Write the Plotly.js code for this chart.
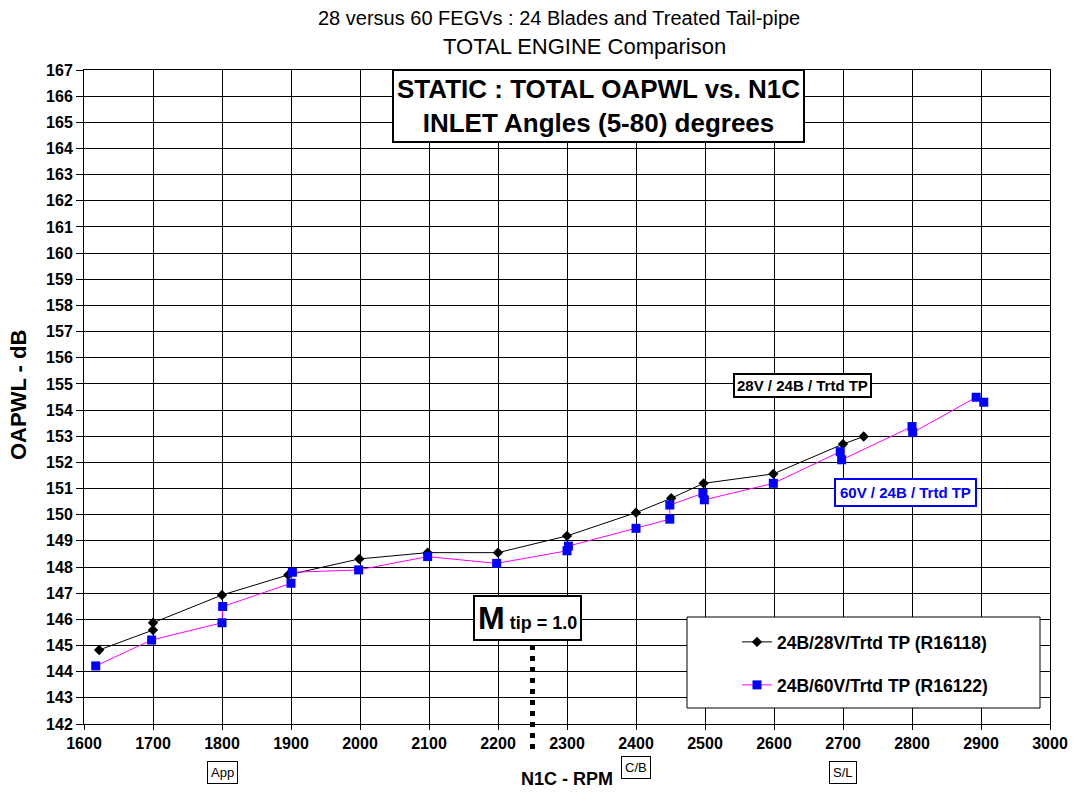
<!DOCTYPE html>
<html>
<head>
<meta charset="utf-8">
<script src="https://cdn.plot.ly/plotly-3.0.1.min.js"></script>
<style>html,body{margin:0;padding:0;background:#fff;}#chart{width:1073px;height:794px;}</style>
</head>
<body>
<div id="chart"></div>
<script>
// Series 1: 24B/28V/Trtd TP (R16118)
const rpm28 = [1622, 1700, 1700, 1800, 1896, 1999, 2098, 2200, 2300, 2400, 2451, 2498, 2599, 2700, 2730];
const pwl28 = [144.83, 145.59, 145.87, 146.93, 147.70, 148.31, 148.55, 148.55, 149.19, 150.08, 150.63, 151.20, 151.56, 152.70, 152.99];
// Series 2: 24B/60V/Trtd TP (R16122)
const rpm60 = [1617, 1698, 1800, 1801, 1900, 1902, 1998, 2098, 2198, 2300, 2302, 2400, 2449, 2449, 2497, 2499, 2599, 2696, 2698, 2800, 2801, 2893, 2904];
const pwl60 = [144.22, 145.21, 145.87, 146.49, 147.38, 147.80, 147.89, 148.40, 148.14, 148.62, 148.80, 149.48, 149.83, 150.37, 150.82, 150.57, 151.20, 152.41, 152.10, 153.37, 153.14, 154.49, 154.30];
const name28 = '24B/28V/Trtd TP (R16118)';
const name60 = '24B/60V/Trtd TP (R16122)';
const xTicks = [1600,1700,1800,1900,2000,2100,2200,2300,2400,2500,2600,2700,2800,2900,3000];
const yTicks = [142,143,144,145,146,147,148,149,150,151,152,153,154,155,156,157,158,159,160,161,162,163,164,165,166,167];
const opPoints = ['App', 'C/B', 'S/L'];
const opRpm = [1800, 2400, 2700];

const F = 'Liberation Sans, Arial, sans-serif';

const traces = [
  {x: rpm28, y: pwl28, name: name28, type: 'scatter', mode: 'lines+markers',
   line: {color: '#000000', width: 1}, marker: {symbol: 'diamond', size: 8, color: '#000000'},
   legend: 'legend'},
  {x: rpm60, y: pwl60, name: name60, type: 'scatter', mode: 'lines+markers',
   line: {color: '#ff00ff', width: 1}, marker: {symbol: 'square', size: 9, color: '#0000ff'},
   legend: 'legend2'}
];

const L = 84, R = 1050, T = 70, B = 724, W = 1073, H = 794;
const px = v => (v - L) / (R - L);
const py = v => (B - v) / (B - T);

function ann(o) { return Object.assign({xref: 'paper', yref: 'paper', showarrow: false, xanchor: 'center', yanchor: 'middle'}, o); }

const annotations = [
  ann({text: '28 versus 60 FEGVs : 24 Blades and Treated Tail-pipe', x: px(559), y: py(18),
   font: {family: F, size: 20, color: '#000'}}),
  ann({text: 'TOTAL ENGINE Comparison', x: px(584), y: py(46),
   font: {family: F, size: 22, color: '#000'}}),
  ann({text: '<b>STATIC : TOTAL OAPWL vs. N1C<br>INLET Angles (5-80) degrees</b>',
   x: px(598), y: py(105.5), align: 'center',
   font: {family: F, size: 26, color: '#000'},
   bgcolor: '#ffffff', bordercolor: '#000', borderwidth: 2, borderpad: 3}),
  ann({text: '<b>28V / 24B / Trtd TP</b>', x: px(802), y: py(386),
   font: {family: F, size: 15, color: '#000'},
   bgcolor: '#ffffff', bordercolor: '#000', borderwidth: 2, borderpad: 2}),
  ann({text: '<b>60V / 24B / Trtd TP</b>', x: px(905), y: py(492),
   font: {family: F, size: 15, color: '#0000ff'},
   bgcolor: '#ffffff', bordercolor: '#0000ff', borderwidth: 2, borderpad: 4}),
  ann({text: "<b><span style='font-size:32px'>M</span><span style='font-size:18px'> tip = 1.0</span></b>",
   x: px(527), y: py(618),
   font: {family: F, size: 18, color: '#000'},
   bgcolor: '#ffffff', bordercolor: '#000', borderwidth: 2, borderpad: 3}),
  ann({text: '<b>N1C - RPM</b>', x: px(567), y: py(779), font: {family: F, size: 18, color: '#000'}}),
  ann({text: '<b>OAPWL - dB</b>', x: px(18), y: py(395), textangle: -90, font: {family: F, size: 22, color: '#000'}})
];
opPoints.forEach((t, i) => {
  annotations.push(ann({text: t, xref: 'x', x: opRpm[i], y: py(t === 'C/B' ? 767 : 772),
    font: {family: F, size: 13, color: '#000'},
    bgcolor: '#ffffff', bordercolor: '#000', borderwidth: 1, borderpad: 3}));
});

const shapes = [
  {type: 'rect', xref: 'paper', yref: 'paper', x0: px(687), x1: px(1040), y0: py(708), y1: py(617),
   fillcolor: '#ffffff', line: {color: '#000', width: 1}, layer: 'above'},
  {type: 'line', xref: 'paper', yref: 'paper', x0: px(532.5), x1: px(532.5), y0: py(645), y1: py(752),
   line: {color: '#000', width: 5, dash: '5px,6px'}, layer: 'above'}
];

const axisFont = {family: F, size: 16, color: '#000'};

const layout = {
  width: W, height: H,
  margin: {l: L, r: W - R, t: T, b: H - B, pad: 0},
  paper_bgcolor: '#ffffff', plot_bgcolor: '#ffffff',
  showlegend: true,
  xaxis: {range: [1600, 3000], tickmode: 'array', tickvals: xTicks, ticktext: xTicks.map(v => '<b>' + v + '</b>'),
    showgrid: true, gridcolor: '#000', gridwidth: 1, zeroline: false,
    showline: true, linecolor: '#000', linewidth: 1, mirror: true,
    ticks: 'outside', ticklen: 5, tickcolor: '#000', tickfont: axisFont, automargin: false},
  yaxis: {range: [142, 167], tickmode: 'array', tickvals: yTicks, ticktext: yTicks.map(v => '<b>' + v + '</b>'),
    showgrid: true, gridcolor: '#000', gridwidth: 1, zeroline: false,
    showline: true, linecolor: '#000', linewidth: 1, mirror: true,
    ticks: 'outside', ticklen: 7, tickcolor: '#000', tickfont: axisFont, automargin: false},
  legend: {x: px(737), y: py(642), xanchor: 'left', yanchor: 'middle', bgcolor: 'rgba(0,0,0,0)',
    borderwidth: 0, font: {family: F, size: 17.5, color: '#000', weight: 'bold'}, itemwidth: 30},
  legend2: {x: px(737), y: py(685), xanchor: 'left', yanchor: 'middle', bgcolor: 'rgba(0,0,0,0)',
    borderwidth: 0, font: {family: F, size: 17.5, color: '#000', weight: 'bold'}, itemwidth: 30},
  annotations: annotations,
  shapes: shapes
};

Plotly.newPlot('chart', traces, layout, {displayModeBar: false, staticPlot: true});
</script>
</body>
</html>
